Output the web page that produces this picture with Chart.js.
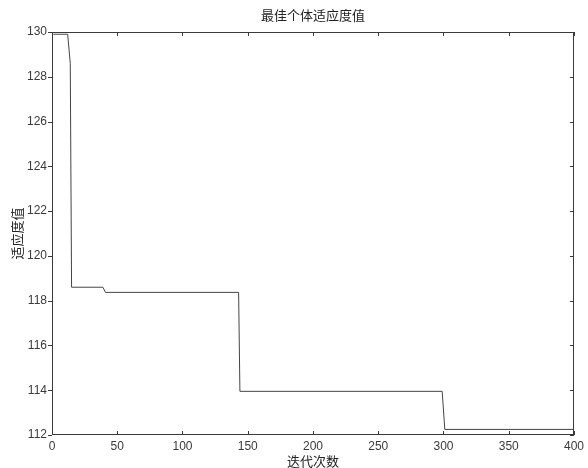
<!DOCTYPE html>
<html>
<head>
<meta charset="utf-8">
<script src="https://cdn.jsdelivr.net/npm/chart.js@4/dist/chart.umd.min.js"></script>
<style>
  html, body { margin: 0; padding: 0; background: #fff; }
  #wrap { width: 588px; height: 468px; }
</style>
</head>
<body>
<div id="wrap"><canvas id="c" width="588" height="468"></canvas></div>
<script>
// Best fitness value per generation (step-shaped convergence curve)
const iterations = [1, 12, 14, 15, 39, 41, 143, 144, 299, 301, 400];
const fitness = [129.9, 129.9, 128.6, 118.6, 118.6, 118.37, 118.37, 113.95, 113.95, 112.25, 112.25];

const xTicks = [0, 50, 100, 150, 200, 250, 300, 350, 400];
const yTicks = [112, 114, 116, 118, 120, 122, 124, 126, 128, 130];

const titleText = '最佳个体适应度值';
const xLabel = '迭代次数';
const yLabel = '适应度值';

const ink = '#3a3a3a';
const cjkFont = '"Noto Sans CJK SC", sans-serif';
const numFont = '"Liberation Sans", Arial, sans-serif';

// Frame around the plot plus MATLAB-style tick marks
const framePlugin = {
  id: 'frame',
  afterDatasetsDraw(chart) {
    const { ctx, chartArea: a, scales } = chart;
    ctx.save();
    ctx.strokeStyle = ink;
    ctx.lineWidth = 1;
    ctx.strokeRect(a.left + 0.5, a.top + 0.5, a.right - a.left - 1, a.bottom - a.top - 1);
    const t = 4;
    ctx.beginPath();
    xTicks.forEach(v => {
      const px = Math.round(scales.x.getPixelForValue(v)) + 0.5;
      ctx.moveTo(px, a.bottom); ctx.lineTo(px, a.bottom - t);
      ctx.moveTo(px, a.top); ctx.lineTo(px, a.top + t);
    });
    yTicks.forEach(v => {
      const py = Math.round(scales.y.getPixelForValue(v)) + 0.5;
      ctx.moveTo(a.left, py); ctx.lineTo(a.left - t, py);
      ctx.moveTo(a.right, py); ctx.lineTo(a.right - t, py);
    });
    ctx.stroke();
    // Title centred over the plot area
    ctx.fillStyle = '#222';
    ctx.font = '13px ' + cjkFont;
    ctx.textAlign = 'center';
    ctx.textBaseline = 'middle';
    ctx.fillText(titleText, (a.left + a.right) / 2, 15);
    ctx.restore();
  }
};

new Chart(document.getElementById('c'), {
  type: 'line',
  data: {
    datasets: [{
      data: iterations.map((x, i) => ({ x, y: fitness[i] })),
      borderColor: '#444',
      borderWidth: 1,
      pointRadius: 0,
      tension: 0,
      fill: false
    }]
  },
  options: {
    responsive: false,
    animation: false,
    layout: { padding: { top: 32, right: 10, left: 0, bottom: 0 } },
    plugins: { legend: { display: false }, tooltip: { enabled: false }, title: { display: false } },
    scales: {
      x: {
        type: 'linear',
        min: 0, max: 400,
        afterBuildTicks: s => { s.ticks = xTicks.map(v => ({ value: v })); },
        ticks: { color: ink, font: { family: numFont, size: 12 }, padding: 4, maxRotation: 0 },
        grid: { display: false, drawTicks: false },
        border: { display: false },
        title: { display: true, text: xLabel, color: '#222', font: { family: cjkFont, size: 13, lineHeight: 1 }, padding: { top: 0, bottom: 0 } },
        afterFit: s => { s.height = 33; }
      },
      y: {
        type: 'linear',
        min: 112, max: 130,
        afterBuildTicks: s => { s.ticks = yTicks.map(v => ({ value: v })); },
        ticks: { color: ink, font: { family: numFont, size: 12 }, padding: 5 },
        grid: { display: false, drawTicks: false },
        border: { display: false },
        title: { display: true, text: yLabel, color: '#222', font: { family: cjkFont, size: 13, lineHeight: 1.2 }, padding: { top: 9, bottom: 0 } },
        afterFit: s => { s.width = 52; }
      }
    }
  },
  plugins: [framePlugin]
});
</script>
</body>
</html>
